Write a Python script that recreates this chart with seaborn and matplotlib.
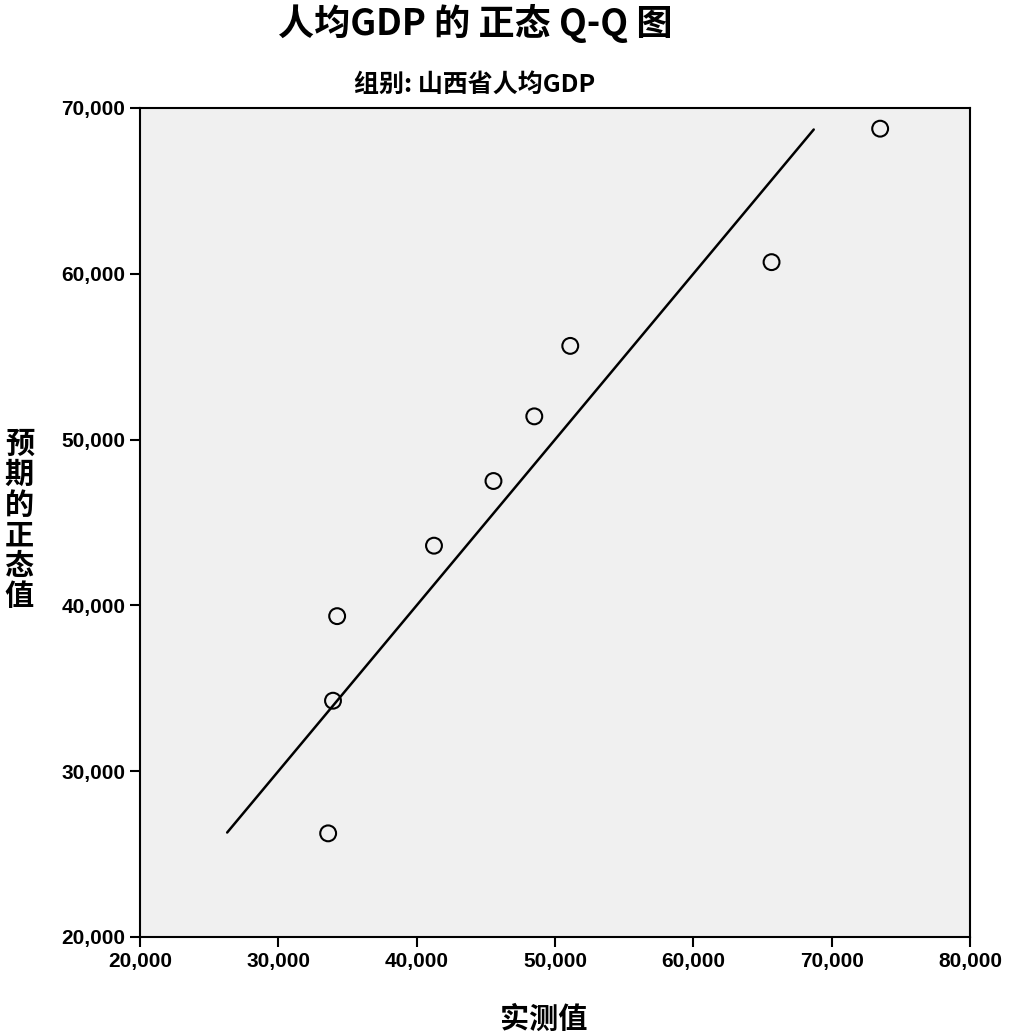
import numpy as np
import pandas as pd
import matplotlib
matplotlib.use('Agg')
import matplotlib.pyplot as plt
import seaborn as sns
from matplotlib.ticker import FuncFormatter

observed = [33600, 33950, 34250, 41250, 45550, 48500, 51100, 65650, 73500]
expected = [26250, 34250, 39350, 43600, 47500, 51400, 55650, 60700, 68750]
line_ends = [26300, 68700]
x_ticks = [20000, 30000, 40000, 50000, 60000, 70000, 80000]
y_ticks = [20000, 30000, 40000, 50000, 60000, 70000]

sns.set_style('ticks')
plt.rcParams['font.family'] = ['Noto Sans CJK SC', 'DejaVu Sans']
plt.rcParams['text.color'] = 'black'
plt.rcParams['xtick.color'] = 'black'
plt.rcParams['ytick.color'] = 'black'
plt.rcParams['axes.edgecolor'] = 'black'

df = pd.DataFrame({'observed': observed, 'expected': expected})

fig = plt.figure(figsize=(10.16, 10.35), dpi=100)
ax = fig.add_axes([0.1378, 0.0947, 0.817, 0.801])
ax.set_facecolor('#f0f0f0')

# reference line
sns.lineplot(x=line_ends, y=line_ends, ax=ax, color='black', linewidth=1.8)

# Q-Q points
sns.scatterplot(data=df, x='observed', y='expected', ax=ax, s=130,
                facecolor='none', edgecolor='black', linewidth=1.5, zorder=3)

ax.set_xlim(20000, 80000)
ax.set_ylim(20000, 70000)
ax.set_xticks(x_ticks)
ax.set_yticks(y_ticks)
fmt = FuncFormatter(lambda v, p: f'{int(v):,}')
ax.xaxis.set_major_formatter(fmt)
ax.yaxis.set_major_formatter(fmt)
ax.tick_params(length=7, width=1.5, labelsize=15, colors='black')
for lab in ax.get_xticklabels() + ax.get_yticklabels():
    lab.set_fontweight('bold')
    lab.set_family('Liberation Sans')
for sp in ax.spines.values():
    sp.set_linewidth(1.5)
    sp.set_color('black')
ax.set_xlabel('')
ax.set_ylabel('')

fig.text(0.4675, 0.977, '人均GDP 的 正态 Q-Q 图', ha='center', va='center',
         fontsize=26, fontweight='bold', color='black')
fig.text(0.4675, 0.918, '组别: 山西省人均GDP', ha='center', va='center',
         fontsize=18, fontweight='bold', color='black')
fig.text(0.019, 0.4976, '\n'.join('预期的正态值'), ha='center', va='center',
         fontsize=21, fontweight='bold', linespacing=1.02, color='black')
fig.text(0.535, 0.016, '实测值', ha='center', va='center',
         fontsize=21, fontweight='bold', color='black')

fig.savefig('out.png', dpi=100)
